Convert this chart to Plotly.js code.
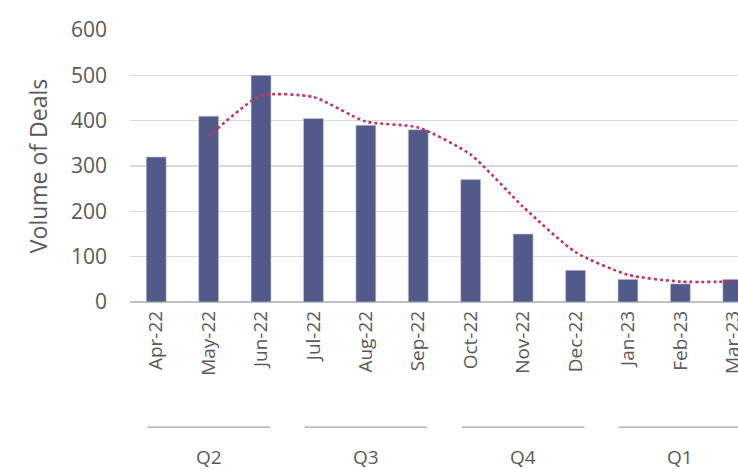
<!DOCTYPE html>
<html><head><meta charset="utf-8">
<script src="https://cdn.plot.ly/plotly-3.0.1.min.js"></script>
<style>html,body{margin:0;padding:0;background:#fff;overflow:hidden}</style>
</head><body><div id="chart" style="width:738px;height:469px"></div>
<script>
const months = ["Apr-22","May-22","Jun-22","Jul-22","Aug-22","Sep-22","Oct-22","Nov-22","Dec-22","Jan-23","Feb-23","Mar-23"];
const deals = [320, 410, 500, 405, 390, 380, 270, 150, 70, 50, 40, 50];
const trend = [null, 365, 455, 452, 398, 385, 325, 210, 110, 60, 45, 45];
const quarters = ["Q2","Q3","Q4","Q1"];
const quarterStart = [0, 3, 6, 9];
const quarterEnd = [2, 5, 8, 11];
const yTicks = [0, 100, 200, 300, 400, 500, 600];

const textColor = "#595959";
const font = "Open Sans, Lato, sans-serif";

const shapes = [], annotations = [];
quarters.forEach((q, i) => {
  shapes.push({type:"line", xref:"x", yref:"paper", x0:quarterStart[i]-0.17, x1:quarterEnd[i]+0.17,
    y0:-0.46, y1:-0.46, line:{color:"#8c8c8c", width:1}});
  annotations.push({xref:"x", yref:"paper", x:(quarterStart[i]+quarterEnd[i])/2, y:-0.57,
    text:q, showarrow:false, font:{family:font, size:19, color:textColor}, xanchor:"center", yanchor:"middle"});
});

const data = [
  {type:"bar", x:months, y:deals, marker:{color:"#525a8a", line:{color:"#c9cbe0", width:0.6}},
   hoverinfo:"none", cliponaxis:true},
  {type:"scatter", mode:"lines", x:months, y:trend, connectgaps:false,
   line:{color:"#c4365f", width:2.6, dash:"dot", shape:"spline", smoothing:0.6}}
];

const layout = {
  width:738, height:469,
  margin:{l:130, r:0, t:30, b:167},
  paper_bgcolor:"#fff", plot_bgcolor:"#fff",
  showlegend:false, bargap:0.62,
  xaxis:{type:"category", range:[-0.5, 11.1], tickangle:-90, showgrid:false, zeroline:false,
    showline:false, ticks:"", tickfont:{family:font, size:19, color:textColor}, ticklabelstandoff:4},
  yaxis:{range:[0, 600], tickvals:yTicks, showgrid:true, gridcolor:"#d9d9d9", gridwidth:1.5,
    zeroline:true, zerolinecolor:"#bfbfbf", zerolinewidth:2, showline:false, ticks:"",
    tickfont:{family:font, size:21, color:textColor}, ticklabelstandoff:22,
    title:{text:"Volume of Deals", font:{family:font, size:23, color:textColor}, standoff:16}},
  shapes, annotations
};
Plotly.newPlot("chart", data, layout, {staticPlot:true, displayModeBar:false});
</script></body></html>
